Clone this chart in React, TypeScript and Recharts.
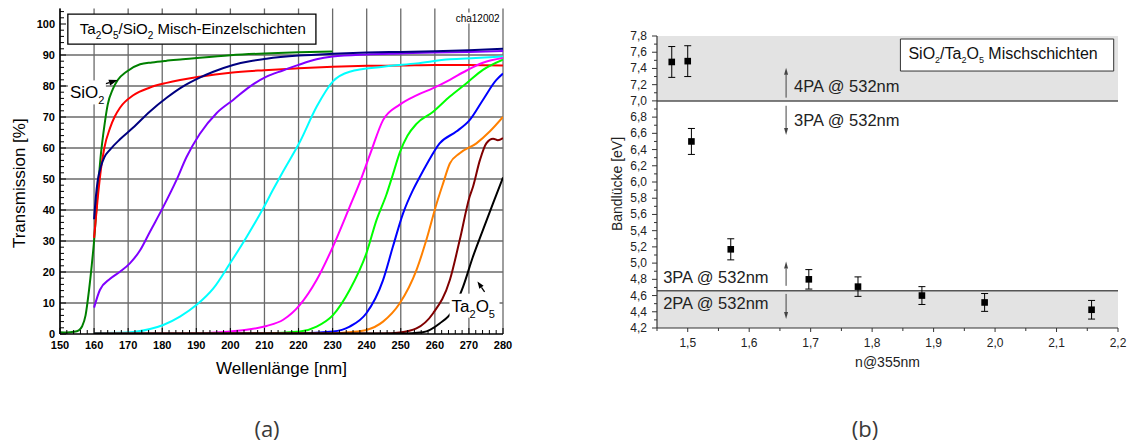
import React from 'react';
import {
  LineChart, Line, XAxis, YAxis, CartesianGrid, ReferenceArea, ReferenceLine, ReferenceDot,
  ScatterChart, Scatter, ErrorBar,
} from 'recharts';

const FONT = "Arial, 'Liberation Sans', Helvetica, sans-serif";

// ---------------- Panel (a): transmission spectra ----------------
const wlMajor = [150, 160, 170, 180, 190, 200, 210, 220, 230, 240, 250, 260, 270, 280];
const wlTicks = Array.from({ length: 66 }, (_, i) => 150 + 2 * i);
const tMajor = [0, 10, 20, 30, 40, 50, 60, 70, 80, 90, 100];
const tTicks = Array.from({ length: 53 }, (_, i) => 2 * i);
const tGrid = [10, 20, 30, 40, 50, 60, 70, 80, 90];

type P = [number, number];
const sio2Green: P[] = [[150,0.6],[152,0.5],[154,0.7],[155.5,1.2],[156.5,2.5],[157.5,6],[158.5,14],[159.3,22],[160,30],[161,45],[162,58],[163,67],[164,74],[165.5,79],[167,82],[169.5,84.6],[173.5,87],[177,87.6],[181,88.1],[186,88.6],[191,89.1],[200,89.9],[210,90.5],[220,90.9],[230,91.1]];
const redCurve: P[] = [[160,31],[161,43],[162,53],[163,60],[164.7,66.5],[166,70],[167.6,73],[171.5,77],[176.4,79.5],[181.3,81],[191,83],[200,84.3],[210,85.1],[220,85.7],[230,86.2],[240,86.5],[250,86.6],[260,86.8],[270,86.8],[280,86.6]];
const navyCurve: P[] = [[160,37],[160.5,44],[161,49],[162,54],[163,57],[164.7,59.5],[167.6,62.8],[171.4,66.5],[176.4,71.8],[181.3,76.2],[186,79.8],[191,82.7],[195,84.6],[200.8,86.8],[205.7,88],[210.6,88.8],[220,89.8],[230,90.4],[240,90.8],[250,91],[260,91.2],[270,91.5],[280,92]];
const purpleCurve: P[] = [[160,8.5],[161.7,14.2],[164.7,17.8],[167.6,20.1],[170.5,22.8],[173.5,27],[176.4,33],[180.3,41],[184.2,49.7],[187.1,57],[191,64.5],[196,71.3],[200.8,75.5],[205.7,79.8],[210.6,83],[215.4,85],[220,86.8],[225.3,88.6],[230,89.5],[240,90.2],[250,90.5],[260,90.8],[270,91],[280,91.3]];
const cyanCurve: P[] = [[160,0.3],[170,0.5],[176.4,1.6],[180.3,2.9],[185.2,5.6],[190.1,9.4],[195,14.7],[199.9,22.8],[204.8,31.4],[209.6,40.5],[212.5,46.5],[215.5,52.5],[220.4,62],[225.3,73.3],[230.1,81.5],[235,84.6],[244.8,86.2],[254.6,87.3],[264.4,88.6],[272,89],[280,89.5]];
const magentaCurve: P[] = [[160,0.1],[190,0.2],[200,0.8],[205.7,1.5],[210.6,2.6],[215.5,4.6],[220.4,9.4],[225.3,17.4],[230.1,28.2],[235,41],[238,49],[241,58],[244.8,69],[249.7,74],[254.6,77],[259.5,79.3],[264.4,82],[269.3,85],[274.1,87.5],[280,89]];
const limeCurve: P[] = [[160,0.1],[210,0.2],[220.4,0.8],[225.3,2.4],[230.1,6.1],[235,14.2],[239.9,26],[242.9,36.8],[245.8,45],[247.7,51.5],[249.7,58.5],[252,64],[254.6,67.8],[259.5,71.7],[264.4,76.6],[269.3,80.9],[274.1,85.2],[280,88.5]];
const blueCurve: P[] = [[160,0.1],[220,0.2],[230.1,0.8],[235,2.4],[239.9,6.7],[244.8,17.4],[247.7,28.2],[250.7,39],[253.6,46.5],[255.5,50.5],[257.5,54.5],[261.4,61.5],[266.3,65.3],[270.2,69],[274.1,75.5],[278,81.9],[280,84]];
const orangeCurve: P[] = [[160,0.1],[230,0.2],[235,0.6],[239.9,1.3],[244.8,4],[249.7,9.9],[254.6,20.6],[257.5,30.3],[260.5,42],[262.4,48.5],[264.4,55],[267.3,58.3],[272.2,61.5],[276.1,65.3],[280,70]];
const maroonCurve: P[] = [[160,0.1],[245,0.2],[249.7,0.5],[254.6,1.8],[259.5,6.7],[264.4,17.4],[267.3,30.3],[270.2,44.3],[271.2,47.5],[273.2,56],[275.1,61.5],[277.1,63],[278.5,62.5],[280,63.2]];
const blackCurve: P[] = [[160,0.1],[250,0.2],[256.5,0.6],[261.4,3.4],[265.3,7.7],[268.3,15.3],[271.2,25],[274.1,33.5],[277.1,42.2],[280,50.5]];

const seriesA = [
  { key: 'sio2', color: '#008000', pts: sio2Green },
  { key: 'red', color: '#ff0000', pts: redCurve },
  { key: 'purple', color: '#8000ff', pts: purpleCurve },
  { key: 'cyan', color: '#00ffff', pts: cyanCurve },
  { key: 'magenta', color: '#ff00ff', pts: magentaCurve },
  { key: 'lime', color: '#00ff00', pts: limeCurve },
  { key: 'blue', color: '#0000ff', pts: blueCurve },
  { key: 'orange', color: '#ff8000', pts: orangeCurve },
  { key: 'maroon', color: '#800000', pts: maroonCurve },
  { key: 'black', color: '#000000', pts: blackCurve },
  { key: 'navy', color: '#000080', pts: navyCurve },
];

// ---------------- Panel (b): band gap vs refractive index ----------------
const nValues = [1.474, 1.50, 1.506, 1.57, 1.697, 1.777, 1.881, 1.983, 2.157];
const gapValues = [7.48, 7.49, 6.50, 5.17, 4.80, 4.71, 4.60, 4.515, 4.425];
const gapErrors = [0.19, 0.19, 0.16, 0.13, 0.12, 0.12, 0.11, 0.11, 0.115];
const bandXMajor = [1.5, 1.6, 1.7, 1.8, 1.9, 2.0, 2.1, 2.2];
const bandXTicks = [1.45, 1.5, 1.55, 1.6, 1.65, 1.7, 1.75, 1.8, 1.85, 1.9, 1.95, 2.0, 2.05, 2.1, 2.15, 2.2];
const bandYMajor = [4.2, 4.4, 4.6, 4.8, 5.0, 5.2, 5.4, 5.6, 5.8, 6.0, 6.2, 6.4, 6.6, 6.8, 7.0, 7.2, 7.4, 7.6, 7.8];
const bandYTicks = [4.2, 4.3, 4.4, 4.5, 4.6, 4.7, 4.8, 4.9, 5.0, 5.1, 5.2, 5.3, 5.4, 5.5, 5.6, 5.7, 5.8, 5.9, 6.0, 6.1, 6.2, 6.3, 6.4, 6.5, 6.6, 6.7, 6.8, 6.9, 7.0, 7.1, 7.2, 7.3, 7.4, 7.5, 7.6, 7.7, 7.8];
const bandData = nValues.map((n, i) => ({ n, gap: gapValues[i], err: gapErrors[i] }));
const upperLimit = 7.0;   // 4PA / 3PA border
const lowerLimit = 4.66;  // 3PA / 2PA border

// ---------------- helpers ----------------
const isIn = (arr: number[], v: number) => arr.some((m) => Math.abs(m - v) < 1e-6);
const fmtComma = (v: number) => v.toFixed(1).replace('.', ',');

type Part = [string, boolean?];
const rich = (parts: Part[], x: number, y: number, fs: number, subFs: number, subDy: number, fill: string, extra: any = {}) => {
  let sub = false;
  return (
    <text x={x} y={y} fontFamily={FONT} fontSize={fs} fill={fill} {...extra}>
      {parts.map(([t, s], i) => {
        let dy = 0;
        if (s && !sub) dy = subDy;
        else if (!s && sub) dy = -subDy;
        sub = !!s;
        return <tspan key={i} dy={dy} fontSize={s ? subFs : fs}>{t}</tspan>;
      })}
    </text>
  );
};

const arrowShape = (color: string, w: number, headLen: number, headHalf: number) => (p: any) => {
  const { x1, y1, x2, y2 } = p;
  const dx = x2 - x1, dy = y2 - y1;
  const len = Math.hypot(dx, dy) || 1;
  const ux = dx / len, uy = dy / len;
  const bx = x2 - ux * headLen, by = y2 - uy * headLen;
  const px = -uy, py = ux;
  return (
    <g>
      <line x1={x1} y1={y1} x2={bx} y2={by} stroke={color} strokeWidth={w} />
      <polygon points={`${x2},${y2} ${bx + px * headHalf},${by + py * headHalf} ${bx - px * headHalf},${by - py * headHalf}`} fill={color} />
    </g>
  );
};

// Panel (a) ticks
const ATickBottom = (p: any) => {
  const { x, y, payload } = p;
  const v = payload.value;
  if (isIn(wlMajor, v)) {
    return (
      <g>
        <line x1={x} x2={x} y1={y} y2={y - 6} stroke="#000" strokeWidth={1} />
        <text x={x} y={y + 15} textAnchor="middle" fontFamily={FONT} fontSize={11} fontWeight="bold" fill="#000">{v}</text>
      </g>
    );
  }
  return <line x1={x} x2={x} y1={y} y2={y - 4} stroke="#000" strokeWidth={1} />;
};
const ATickLeft = (p: any) => {
  const { x, y, payload } = p;
  const v = payload.value;
  if (isIn(tMajor, v)) {
    return (
      <g>
        <line x1={x} x2={x + 6} y1={y} y2={y} stroke="#000" strokeWidth={1} />
        <text x={x - 5} y={y + 4} textAnchor="end" fontFamily={FONT} fontSize={11} fontWeight="bold" fill="#000">{v}</text>
      </g>
    );
  }
  return <line x1={x} x2={x + 4} y1={y} y2={y} stroke="#000" strokeWidth={1} />;
};
const ATickTop = (p: any) => {
  const { x, y, payload } = p;
  const l = isIn(wlMajor, payload.value) ? 6 : 4;
  return <line x1={x} x2={x} y1={y} y2={y + l} stroke="#000" strokeWidth={1} />;
};
const ATickRight = (p: any) => {
  const { x, y, payload } = p;
  const l = isIn(tMajor, payload.value) ? 6 : 4;
  return <line x1={x} x2={x - l} y1={y} y2={y} stroke="#000" strokeWidth={1} />;
};

// Panel (b) ticks
const BTickBottom = (p: any) => {
  const { x, y, payload } = p;
  const v = payload.value;
  if (isIn(bandXMajor, v)) {
    return (
      <g>
        <line x1={x} x2={x} y1={y} y2={y + 4} stroke="#333" strokeWidth={1} />
        <text x={x} y={y + 19} textAnchor="middle" fontFamily={FONT} fontSize={12} fill="#222">{fmtComma(v)}</text>
      </g>
    );
  }
  return <line x1={x} x2={x} y1={y} y2={y + 3} stroke="#333" strokeWidth={1} />;
};
const BTickLeft = (p: any) => {
  const { x, y, payload } = p;
  const v = payload.value;
  if (isIn(bandYMajor, v)) {
    return (
      <g>
        <line x1={x} x2={x - 5} y1={y} y2={y} stroke="#333" strokeWidth={1} />
        <text x={x - 10} y={y + 4} textAnchor="end" fontFamily={FONT} fontSize={12} fill="#222">{fmtComma(v)}</text>
      </g>
    );
  }
  return <line x1={x} x2={x - 3} y1={y} y2={y} stroke="#333" strokeWidth={1} />;
};
const BTickTop = (p: any) => {
  const { x, y } = p;
  return <line x1={x} x2={x} y1={y} y2={y - 3} stroke="#333" strokeWidth={1} />;
};
const BTickRight = (p: any) => {
  const { x, y } = p;
  return <line x1={x} x2={x + 3} y1={y} y2={y} stroke="#333" strokeWidth={1} />;
};

const squareShape = (p: any) => (
  <rect x={p.cx - 3.3} y={p.cy - 3.3} width={6.6} height={6.6} fill="#000" />
);

// Annotation texts
const titleAParts: Part[] = [['Ta'], ['2', true], ['O'], ['5', true], ['/SiO'], ['2', true], [' Misch-Einzelschichten']];
const titleBParts: Part[] = [['SiO'], ['2', true], ['/Ta'], ['2', true], ['O'], ['5', true], [' Mischschichten']];
const sio2Parts: Part[] = [['SiO'], ['2', true]];
const ta2o5Parts: Part[] = [['Ta'], ['2', true], ['O'], ['5', true]];

const labelWithBg = (parts: Part[], w: number, h: number, fs: number, subFs: number, subDy: number, anchor: 'start' | 'end' = 'start') => (p: any) => {
  const vb = p.viewBox || {};
  const x = vb.x + (vb.width || 0) / 2;
  const y = vb.y + (vb.height || 0) / 2;
  const rx = anchor === 'start' ? x - 2 : x - w + 2;
  return (
    <g>
      <rect x={rx} y={y - h + 6} width={w} height={h} fill="#fff" />
      {rich(parts, x, y, fs, subFs, subDy, '#000', { textAnchor: anchor })}
    </g>
  );
};

const plainLabel = (text: string, fs: number, fill: string) => (p: any) => {
  const vb = p.viewBox || {};
  const x = vb.x + (vb.width || 0) / 2;
  const y = vb.y + (vb.height || 0) / 2;
  return <text x={x} y={y} fontFamily={FONT} fontSize={fs} fill={fill}>{text}</text>;
};

const App = () => (
  <div style={{ position: 'absolute', left: 0, top: 0, width: 1131, height: 445, background: '#fff', overflow: 'hidden' }}>
    {/* Panel (a) */}
    <div style={{ position: 'absolute', left: 0, top: 0 }}>
      <LineChart width={540} height={400} margin={{ top: 8.5, right: 37, bottom: 36, left: 0 }}>
        <CartesianGrid verticalValues={wlMajor} horizontalValues={tGrid} stroke="#6a6a6a" strokeWidth={1.3} />
        <XAxis
          type="number" dataKey="x" domain={[150, 280]} allowDataOverflow ticks={wlTicks} interval={0}
          tickLine={false} tickSize={0} tickMargin={0} tick={ATickBottom} height={30}
          axisLine={{ stroke: '#000', strokeWidth: 1.5 }}
          label={{
            content: (p: any) => {
              const vb = p.viewBox || {};
              return <text x={vb.x + vb.width / 2} y={vb.y + 40} textAnchor="middle" fontFamily={FONT} fontSize={17} fill="#000">Wellenlänge [nm]</text>;
            },
          }}
        />
        <XAxis
          xAxisId="top" orientation="top" type="number" domain={[150, 280]} allowDataOverflow ticks={wlTicks} interval={0}
          tickLine={false} tickSize={0} tickMargin={0} tick={ATickTop} height={0}
          axisLine={{ stroke: '#000', strokeWidth: 1.5 }}
        />
        <YAxis
          type="number" domain={[0, 105]} allowDataOverflow ticks={tTicks} interval={0}
          tickLine={false} tickSize={0} tickMargin={0} tick={ATickLeft} width={60}
          axisLine={{ stroke: '#000', strokeWidth: 1.5 }}
          label={{
            content: (p: any) => {
              const vb = p.viewBox || {};
              const cx = vb.x + 25;
              const cy = vb.y + vb.height / 2 + 12;
              return <text x={cx} y={cy} transform={`rotate(-90 ${cx} ${cy})`} textAnchor="middle" fontFamily={FONT} fontSize={17} fill="#000">Transmission [%]</text>;
            },
          }}
        />
        <YAxis
          yAxisId="right" orientation="right" type="number" domain={[0, 105]} allowDataOverflow ticks={tTicks} interval={0}
          tickLine={false} tickSize={0} tickMargin={0} tick={ATickRight} width={0}
          axisLine={{ stroke: '#000', strokeWidth: 1.5 }}
        />
        <ReferenceArea
          x1={152.3} x2={225.1} y1={93.5} y2={103.2} fill="#fff" fillOpacity={1} stroke="#000" strokeWidth={1.3}
          label={{
            content: (p: any) => {
              const vb = p.viewBox || {};
              return rich(titleAParts, vb.x + 12, vb.y + 20, 15, 10, 5, '#000');
            },
          }}
        />
        {seriesA.map((s) => (
          <Line
            key={s.key}
            data={s.pts.map(([x, y]) => ({ x, y }))}
            dataKey="y"
            type="monotone"
            stroke={s.color}
            strokeWidth={2}
            dot={false}
            activeDot={false}
            isAnimationActive={false}
          />
        ))}
        <ReferenceLine segment={[{ x: 158.2, y: 79 }, { x: 167, y: 81.9 }]} shape={arrowShape('#000', 1.3, 9, 3)} />
        <ReferenceLine segment={[{ x: 274.6, y: 13.6 }, { x: 272.5, y: 16.9 }]} shape={arrowShape('#000', 1.3, 7, 2.6)} />
        <ReferenceDot x={152.9} y={76} r={1} fill="none" stroke="none" label={labelWithBg(sio2Parts, 38, 24, 17, 11, 6)} />
        <ReferenceDot x={264.9} y={7.2} r={1} fill="none" stroke="none" label={labelWithBg(ta2o5Parts, 50, 24, 17, 11, 6)} />
        <ReferenceDot
          x={279} y={100.8} r={1} fill="none" stroke="none"
          label={(p: any) => {
            const vb = p.viewBox || {};
            const x = vb.x + (vb.width || 0) / 2;
            const y = vb.y + (vb.height || 0) / 2;
            return (
              <g>
                <rect x={x - 47} y={y - 9} width={48} height={11} fill="#fff" />
                <text x={x} y={y} textAnchor="end" fontFamily={FONT} fontSize={10} fill="#000">cha12002</text>
              </g>
            );
          }}
        />
      </LineChart>
    </div>

    {/* Panel (b) */}
    <div style={{ position: 'absolute', left: 560, top: 0 }}>
      <ScatterChart width={571} height={400} margin={{ top: 36, right: 13, bottom: 42, left: 0 }}>
        <ReferenceArea x1={1.45} x2={2.2} y1={upperLimit} y2={7.8} fill="#e3e3e3" fillOpacity={1} stroke="none" />
        <ReferenceArea x1={1.45} x2={2.2} y1={4.2} y2={lowerLimit} fill="#e3e3e3" fillOpacity={1} stroke="none" />
        <ReferenceLine y={upperLimit} stroke="#555" strokeWidth={1.5} />
        <ReferenceLine y={lowerLimit} stroke="#555" strokeWidth={1.5} />
        <XAxis
          type="number" dataKey="n" domain={[1.45, 2.2]} allowDataOverflow ticks={bandXTicks} interval={0}
          tickLine={false} tickSize={0} tickMargin={0} tick={BTickBottom} height={30}
          axisLine={{ stroke: '#333', strokeWidth: 1.2 }}
          label={{
            content: (p: any) => {
              const vb = p.viewBox || {};
              return <text x={vb.x + vb.width / 2} y={vb.y + 39} textAnchor="middle" fontFamily={FONT} fontSize={14} fill="#222">n@355nm</text>;
            },
          }}
        />
        <XAxis
          xAxisId="top" orientation="top" type="number" domain={[1.45, 2.2]} allowDataOverflow ticks={bandXTicks} interval={0}
          tickLine={false} tickSize={0} tickMargin={0} tick={BTickTop} height={0}
          axisLine={{ stroke: '#333', strokeWidth: 1.2 }}
        />
        <YAxis
          type="number" dataKey="gap" domain={[4.2, 7.8]} allowDataOverflow ticks={bandYTicks} interval={0}
          tickLine={false} tickSize={0} tickMargin={0} tick={BTickLeft} width={97}
          axisLine={{ stroke: '#333', strokeWidth: 1.2 }}
          label={{
            content: (p: any) => {
              const vb = p.viewBox || {};
              const cx = vb.x + 62;
              const cy = vb.y + vb.height / 2 + 2;
              return <text x={cx} y={cy} transform={`rotate(-90 ${cx} ${cy})`} textAnchor="middle" fontFamily={FONT} fontSize={14} fill="#222">Bandlücke [eV]</text>;
            },
          }}
        />
        <YAxis
          yAxisId="right" orientation="right" type="number" domain={[4.2, 7.8]} allowDataOverflow ticks={bandYTicks} interval={0}
          tickLine={false} tickSize={0} tickMargin={0} tick={BTickRight} width={0}
          axisLine={{ stroke: '#333', strokeWidth: 1.2 }}
        />
        <ReferenceArea
          x1={1.846} x2={2.193} y1={7.368} y2={7.763} fill="#fff" fillOpacity={1} stroke="#333" strokeWidth={1}
          label={{
            content: (p: any) => {
              const vb = p.viewBox || {};
              return rich(titleBParts, vb.x + 8, vb.y + 20, 16, 9, 4, '#111');
            },
          }}
        />
        <ReferenceLine segment={[{ x: 1.66, y: 7.04 }, { x: 1.66, y: 7.41 }]} shape={arrowShape('#444', 1, 7, 2)} />
        <ReferenceLine segment={[{ x: 1.66, y: 6.94 }, { x: 1.66, y: 6.58 }]} shape={arrowShape('#444', 1, 7, 2)} />
        <ReferenceLine segment={[{ x: 1.66, y: 4.72 }, { x: 1.66, y: 5.02 }]} shape={arrowShape('#444', 1, 7, 2)} />
        <ReferenceLine segment={[{ x: 1.66, y: 4.62 }, { x: 1.66, y: 4.31 }]} shape={arrowShape('#444', 1, 7, 2)} />
        <Scatter data={bandData} dataKey="gap" shape={squareShape} isAnimationActive={false}>
          <ErrorBar dataKey="err" direction="y" width={3.5} stroke="#000" strokeWidth={1} />
        </Scatter>
        <ReferenceDot x={1.673} y={7.11} r={1} fill="none" stroke="none" label={plainLabel('4PA @ 532nm', 16.5, '#222')} />
        <ReferenceDot x={1.673} y={6.69} r={1} fill="none" stroke="none" label={plainLabel('3PA @ 532nm', 16.5, '#222')} />
        <ReferenceDot x={1.46} y={4.75} r={1} fill="none" stroke="none" label={plainLabel('3PA @ 532nm', 16.5, '#222')} />
        <ReferenceDot x={1.46} y={4.43} r={1} fill="none" stroke="none" label={plainLabel('2PA @ 532nm', 16.5, '#222')} />
      </ScatterChart>
    </div>

    {/* Captions */}
    <svg width={1131} height={445} style={{ position: 'absolute', left: 0, top: 0, pointerEvents: 'none' }}>
      <text x={267} y={437} textAnchor="middle" fontFamily="'Open Sans', sans-serif" fontSize={22} fill="#3a3a3a">(a)</text>
      <text x={865} y={437} textAnchor="middle" fontFamily="'Open Sans', sans-serif" fontSize={22} fill="#3a3a3a">(b)</text>
    </svg>
  </div>
);

export default App;
